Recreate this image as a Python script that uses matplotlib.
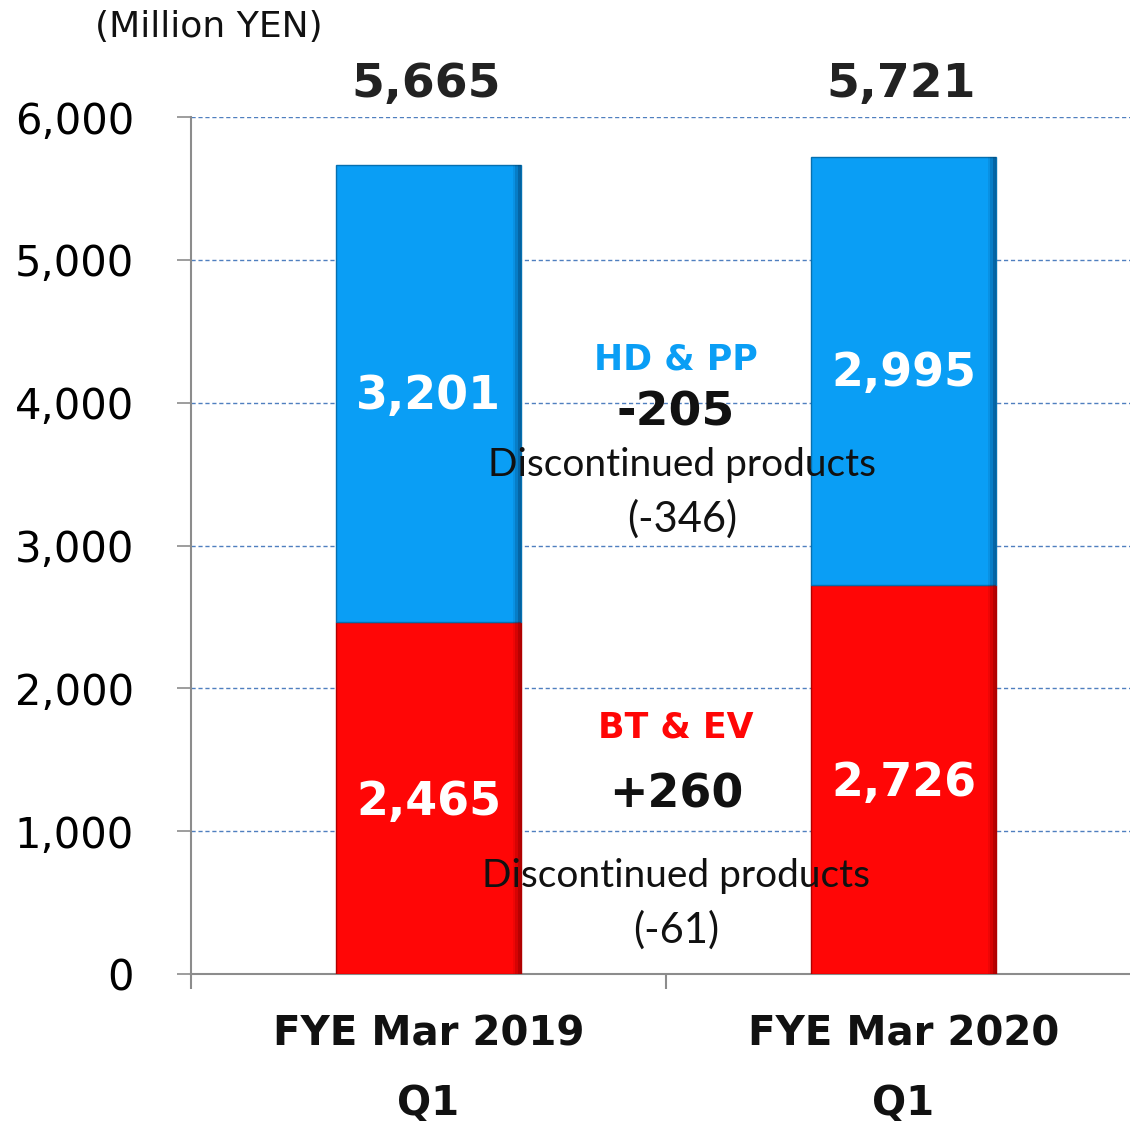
import matplotlib
matplotlib.use("Agg")
import matplotlib.pyplot as plt
import matplotlib.transforms as mtransforms

categories = ["FYE Mar 2019", "FYE Mar 2020"]
sub_labels = ["Q1", "Q1"]
bt_ev = [2465, 2726]
hd_pp = [3201, 2995]
totals = [5665, 5721]
yticks = [0, 1000, 2000, 3000, 4000, 5000, 6000]
ytick_labels = ["0", "1,000", "2,000", "3,000", "4,000", "5,000", "6,000"]

BLUE = "#0A9EF5"
RED = "#FF0606"
GRID = "#4F7FBF"
GRAY = "#8C8C8C"

fig = plt.figure(figsize=(11.30, 11.28), dpi=100)
ax = fig.add_axes([191/1130, 154/1128, 950/1130, 857/1128])
ax.set_xlim(-0.5, 1.5)
ax.set_ylim(0, 6000)

x = list(range(len(categories)))
w = 0.39
ax.bar(x, bt_ev, width=w, color=RED, edgecolor="#B00000", linewidth=1.0, zorder=3)
ax.bar(x, hd_pp, bottom=bt_ev, width=w, color=BLUE, edgecolor="#0570B0", linewidth=1.0, zorder=3)
# darker right edge (bevel hint)
for k, a in enumerate([0.25, 0.45, 0.7]):
    off = 0.018 - k * 0.006
    ax.bar([xi + w/2 - off/2 for xi in x], bt_ev, width=off, color="#800000", linewidth=0, zorder=4, alpha=a * 0.5)
    ax.bar([xi + w/2 - off/2 for xi in x], hd_pp, bottom=bt_ev, width=off, color="#033A66", linewidth=0, zorder=4, alpha=a * 0.5)

ax.set_yticks(yticks)
ax.set_yticklabels(ytick_labels, fontsize=30)
ax.tick_params(axis="y", direction="out", length=10, width=1.2, color=GRAY, pad=31)
ax.yaxis.grid(True, linestyle=(0, (3, 2)), color=GRID, linewidth=1.0, zorder=1)
ax.set_axisbelow(True)

ax.set_xticks([-0.5, 0.5, 1.5])
ax.set_xticklabels([])
ax.tick_params(axis="x", direction="out", length=11, width=1.5, color=GRAY)

for s in ["top", "right"]:
    ax.spines[s].set_visible(False)
for s in ["left", "bottom"]:
    ax.spines[s].set_color(GRAY)
    ax.spines[s].set_linewidth(1.5)

# category labels
trans = mtransforms.blended_transform_factory(ax.transData, fig.transFigure)
for xi, c, q in zip(x, categories, sub_labels):
    ax.text(xi, 1 - 1034/1128, c, transform=trans, ha="center", va="center",
            fontsize=29, fontweight="bold", color="#111111")
    ax.text(xi, 1 - 1104/1128, q, transform=trans, ha="center", va="center",
            fontsize=29, fontweight="bold", color="#111111")

# value labels
for xi, b, h, t in zip(x, bt_ev, hd_pp, totals):
    ax.text(xi, b / 2 - 30, f"{b:,}", ha="center", va="center", fontsize=33,
            fontweight="bold", color="white", zorder=5)
    ax.text(xi, b + h / 2 - 20, f"{h:,}", ha="center", va="center", fontsize=33,
            fontweight="bold", color="white", zorder=5)
    ax.text(xi - 0.006, 6231, f"{t:,}", ha="center", va="center", fontsize=34,
            fontweight="bold", color="#222222")

fig.text(209/1130, 1 - 27/1128, "(Million YEN)", ha="center", va="center", fontsize=26, color="#111111")

def px(xp, yp):
    return (xp / 1130, 1 - yp / 1128)

def put(xp, yp, s, **kw):
    fig.text(*px(xp, yp), s, ha="center", va="center", zorder=6, **kw)

put(676, 360, "HD & PP", fontsize=25, fontweight="bold", color=BLUE)
put(676, 413, "-205", fontsize=34, fontweight="bold", color="#111111")
put(682, 465, "Discontinued products", fontsize=28, family="Lato", color="#111111")
put(682, 519, "(-346)", fontsize=30, family="Lato", color="#111111")

put(676, 727, "BT & EV", fontsize=25, fontweight="bold", color=RED)
put(676, 795, "+260", fontsize=33, fontweight="bold", color="#111111")
put(676, 876, "Discontinued products", fontsize=28, family="Lato", color="#111111")
put(676, 930, "(-61)", fontsize=30, family="Lato", color="#111111")

fig.savefig("out.png", dpi=100)
